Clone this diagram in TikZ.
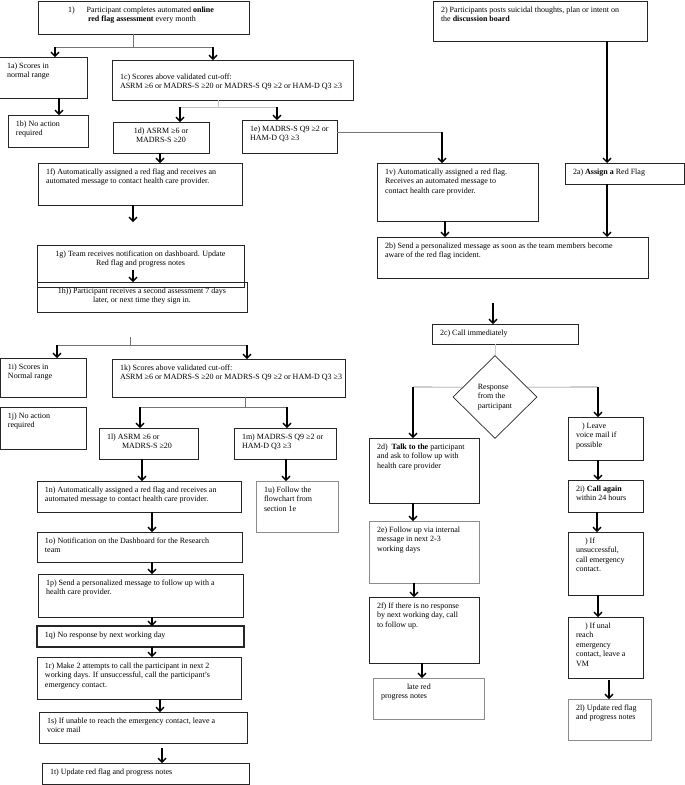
\documentclass[tikz,border=0pt]{standalone}
\usepackage{fontspec}
\setmainfont{Liberation Serif}
\usetikzlibrary{arrows.meta,shapes.geometric}
\tikzset{
  box/.style={draw=black!85, line width=0.7pt, anchor=north west, inner xsep=8pt, inner ysep=0pt, outer sep=0pt, font=\fontsize{8}{9.6}\selectfont},
  faintbox/.style={box, draw=black!45},
  decision/.style={diamond, draw=black!85, line width=0.7pt, fill=white, minimum width=84pt, minimum height=83pt, inner sep=0pt, align=left, font=\fontsize{8}{9.6}\selectfont},
  flow/.style={-{Straight Barb[length=4pt, width=8pt]}, line width=1.3pt},
  branch/.style={line width=0.6pt, color=black!55},
  faint/.style={line width=0.6pt, color=black!20}
}
\newcommand{\flowtext}[3]{\parbox[c][#2pt][t]{\dimexpr#1pt-16pt\relax}{\raggedright\rule{0pt}{11pt}#3}}

\begin{document}
\begin{tikzpicture}[x=1pt, y=-1pt]
  \useasboundingbox (0,0) rectangle (685,785);

  % first flow: monthly assessment
  \node[box] (n1) at (38,1) {\flowtext{211}{33}{\hspace*{22pt}1)\hspace{12pt}Participant completes automated \textbf{online}\\\hspace*{42pt}\textbf{red flag assessment} every month}};
  \node[box] (n1a) at (-3,57) {\flowtext{90}{41}{\hspace*{2pt}1a) Scores in\\\hspace*{2pt}normal range}};
  \node[box] (n1b) at (8,115) {\flowtext{80}{32}{1b) No action\\required}};
  \node[box] (n1c) at (112,60) {\flowtext{241}{40}{\rule{0pt}{19pt}1c) Scores above validated cut-off:\\ASRM ≥6 or MADRS-S ≥20 or MADRS-S Q9 ≥2 or HAM-D Q3 ≥3}};
  \node[box] (n1d) at (113,122) {\flowtext{96}{31}{\centering 1d) ASRM ≥6 or\\MADRS-S ≥20}};
  \node[box] (n1e) at (242,120) {\flowtext{95}{33}{1e) MADRS-S Q9 ≥2 or\\HAM-D Q3 ≥3}};
  \node[box] (n1f) at (38,163) {\flowtext{204}{42}{1f) Automatically assigned a red flag and receives an\\automated message to contact health care provider.}};
  \node[box] (n1g) at (37,245) {\flowtext{207}{42}{\centering 1g) Team receives notification on dashboard. Update\\Red flag and progress notes}};
  \node[box] (n1h) at (37,282) {\flowtext{210}{30}{\centering 1h)) Participant receives a second assessment 7 days\\later, or next time they sign in.}};

  % second assessment
  \node[box] (n1i) at (0,358) {\flowtext{86}{39}{1i) Scores in\\Normal range}};
  \node[box] (n1j) at (0,407) {\flowtext{86}{42}{1j) No action\\required}};
  \node[box] (n1k) at (112,359) {\flowtext{233}{38}{1k) Scores above validated cut-off:\\\mbox{ASRM ≥6 or MADRS-S ≥20 or MADRS-S Q9 ≥2 or HAM-D Q3 ≥3}}};
  \node[box] (n1l) at (99,428) {\flowtext{99}{31}{1l) ASRM ≥6 or\\\hspace*{15pt}MADRS-S ≥20}};
  \node[box] (n1m) at (234,428) {\flowtext{102}{31}{1m) MADRS-S Q9 ≥2 or\\HAM-D Q3 ≥3}};
  \node[box] (n1n) at (37,481) {\flowtext{204}{31}{1n) Automatically assigned a red flag and receives an\\automated message to contact health care provider.}};
  \node[faintbox] (n1u) at (256,481) {\flowtext{82}{51}{1u) Follow the\\flowchart from\\section 1e}};
  \node[box] (n1o) at (37,532) {\flowtext{205}{30}{1o) Notification on the Dashboard for the Research\\team}};
  \node[box] (n1p) at (38,574) {\flowtext{205}{43}{1p) Send a personalized message to follow up with a\\health care provider.}};
  \node[box, line width=1.2pt] (n1q) at (37,626) {\flowtext{207}{21}{1q) No response by next working day}};
  \node[box] (n1r) at (37,657) {\flowtext{204}{42}{1r) Make 2 attempts to call the participant in next 2\\working days. If unsuccessful, call the participant's\\emergency contact.}};
  \node[box] (n1s) at (39,712) {\flowtext{208}{31}{1s) If unable to reach the emergency contact, leave a\\voice mail}};
  \node[box] (n1t) at (42,763) {\flowtext{207}{21}{1t) Update red flag and progress notes}};

  % discussion board flow
  \node[box] (n2) at (433,1) {\flowtext{214}{40}{2) Participants posts suicidal thoughts, plan or intent on\\the \textbf{discussion board}}};
  \node[box] (n1v) at (377,163) {\flowtext{161}{58}{1v) Automatically assigned a red flag.\\Receives an automated message to\\contact health care provider.}};
  \node[box] (n2a) at (565,163) {\flowtext{119}{21}{2a) \textbf{Assign a} Red Flag}};
  \node[box] (n2b) at (377,237) {\flowtext{271}{41}{2b) Send a personalized message as soon as the team members become\\aware of the red flag incident.}};
  \node[box] (n2c) at (432,324) {\flowtext{146}{20}{2c) Call immediately}};
  \node[decision] (dia) at (495,397) {Response\\from the\\participant};
  \node[box] (n2d) at (369,438) {\flowtext{110}{65}{2d)\ \ \textbf{Talk to the} participant\\and ask to follow up with\\health care provider}};
  \node[faintbox] (n2e) at (369,521) {\flowtext{110}{62}{2e) Follow up via internal\\message in next 2-3\\working days}};
  \node[box] (n2f) at (369,597) {\flowtext{110}{66}{2f) If there is no response\\by next working day, call\\to follow up.}};
  \node[faintbox] (n2g) at (373,678) {\flowtext{111}{41}{\hspace*{26pt}late red\\progress notes}};
  \node[box] (n2h) at (568,417) {\flowtext{75}{43}{\hspace*{6pt}) Leave\\voice mail if\\possible}};
  \node[box] (n2i) at (568,480) {\flowtext{75}{32}{2i) \textbf{Call again}\\within 24 hours}};
  \node[box] (n2j) at (568,532) {\flowtext{75}{63}{\hspace*{9pt}) If\\unsuccessful,\\call emergency\\contact.}};
  \node[box] (n2k) at (568,617) {\flowtext{75}{61}{\hspace*{9pt}) If unal\\reach\\emergency\\contact, leave a\\VM}};
  \node[faintbox] (n2l) at (568,699) {\flowtext{83}{41}{2l) Update red flag\\and progress notes}};

  % junctions
  \coordinate (j1) at (133,47);
  \coordinate (j1a) at (55,47);
  \coordinate (j1c) at (213,47);
  \coordinate (kc) at (218,107);
  \coordinate (k1d) at (180,107);
  \coordinate (k1e) at (277,107);
  \coordinate (m1) at (442,132);
  \coordinate (j2) at (130,345);
  \coordinate (j2i) at (57,345);
  \coordinate (j2k) at (247,345);
  \coordinate (kk) at (245,407);
  \coordinate (k1l) at (140,407);
  \coordinate (k1m) at (287,407);
  \coordinate (d2l) at (413,387);
  \coordinate (d2r) at (598,387);

  % connectors, first flow
  \draw[branch] (n1.south -| j1) -- (j1);
  \draw[branch] (j1a) -- (j1c);
  \draw[flow] (j1a) -- (n1a.north -| j1a);
  \draw[flow] (j1c) -- (n1c.north -| j1c);
  \draw[flow] (n1a.south -| 59,0) -- (n1b.north -| 59,0);
  \draw[branch, color=black!25] (n1c.south -| kc) -- (kc);
  \draw[branch, color=black!25] (k1d) -- (k1e);
  \draw[flow] (k1d) -- (n1d.north -| k1d);
  \draw[flow] (k1e) -- (n1e.north -| k1e);
  \draw[branch] (n1e.east |- m1) -- (m1);
  \draw[flow] (m1) -- (n1v.north -| m1);
  \draw[flow] (n1d.south -| 160,0) -- (n1f.north -| 160,0);
  \draw[flow, shorten >=23pt] (n1f.south -| 133,0) -- (n1g.north -| 133,0);
  \draw[flow] (n1g.south -| 133,0) ++(0,-17) -- (n1h.north -| 133,0);

  % connectors, second assessment
  \draw[branch, shorten <=25pt] (n1h.south -| j2) -- (j2);
  \draw[branch] (j2i) -- (j2k);
  \draw[flow] (j2i) -- (n1i.north -| j2i);
  \draw[flow] (j2k) -- (n1k.north -| j2k);
  \draw[branch] (n1k.south -| kk) -- (kk);
  \draw[branch] (k1l) -- (k1m);
  \draw[flow] (k1l) -- (n1l.north -| k1l);
  \draw[flow] (k1m) -- (n1m.north -| k1m);
  \draw[flow] (n1l.south -| 142,0) -- (n1n.north -| 142,0);
  \draw[flow] (n1m.south -| 286,0) -- (n1u.north -| 286,0);
  \draw[flow] (n1n.south -| 152,0) -- (n1o.north -| 152,0);
  \draw[flow] (n1o.south -| 152,0) -- (n1p.north -| 152,0);
  \draw[flow] (n1p.south -| 152,0) -- (n1q.north -| 152,0);
  \draw[flow] (n1q.south -| 152,0) -- (n1r.north -| 152,0);
  \draw[flow] (n1r.south -| 160,0) -- (n1s.north -| 160,0);
  \draw[flow, shorten <=5pt] (n1s.south -| 162,0) -- (n1t.north -| 162,0);

  % connectors, discussion board flow
  \draw[flow] (n2.south -| 607,0) -- (n2a.north -| 607,0);
  \draw[flow] (n1v.south -| 445,0) -- (n2b.north -| 445,0);
  \draw[flow] (n2a.south -| 607,0) -- (n2b.north -| 607,0);
  \draw[flow, shorten <=25pt] (n2b.south -| 493,0) -- (n2c.north -| 493,0);
  \draw[faint] (n2c.south -| dia) -- (dia.north);
  \draw[branch] (dia.163) -- (d2l);
  \draw[flow] (d2l) -- (n2d.north -| d2l);
  \draw[branch] (dia.17) -- (d2r);
  \draw[flow] (d2r) -- (n2h.north -| d2r);
  \draw[flow] (n2d.south -| 413,0) -- (n2e.north -| 413,0);
  \draw[flow] (n2e.south -| 414,0) -- (n2f.north -| 414,0);
  \draw[flow] (n2f.south -| 422,0) -- (n2g.north -| 422,0);
  \draw[flow] (n2h.south -| 598,0) -- (n2i.north -| 598,0);
  \draw[flow] (n2i.south -| 597,0) -- (n2j.north -| 597,0);
  \draw[flow] (n2j.south -| 598,0) -- (n2k.north -| 598,0);
  \draw[flow, shorten <=2pt] (n2k.south -| 609,0) -- (n2l.north -| 609,0);
\end{tikzpicture}
\end{document}
